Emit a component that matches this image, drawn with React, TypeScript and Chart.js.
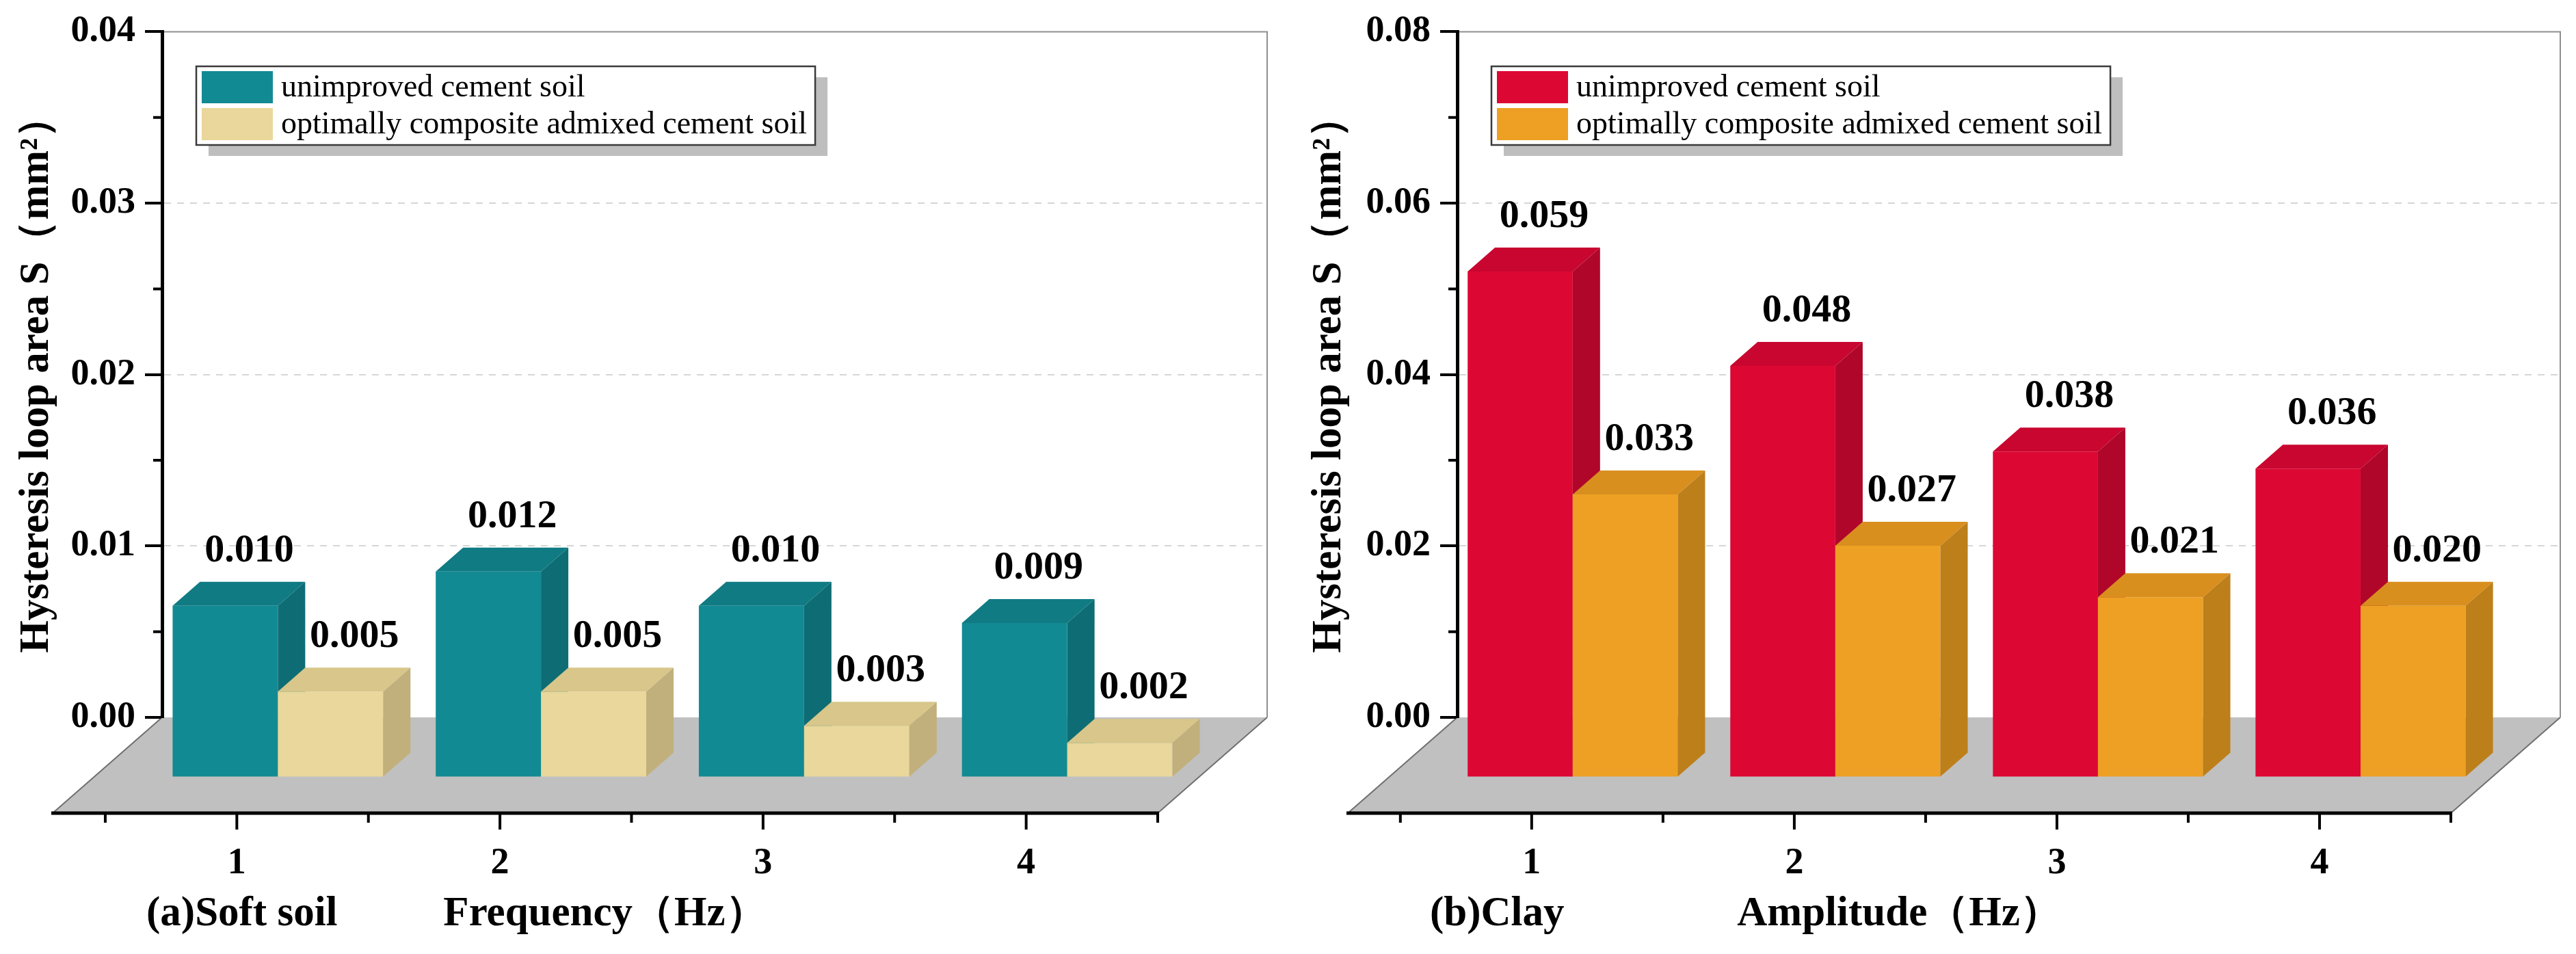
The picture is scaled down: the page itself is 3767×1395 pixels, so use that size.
import { useEffect, useRef } from 'react';
import { Chart, LinearScale, registerables } from 'chart.js';

Chart.register(...registerables);

// ---- data ----
const CATEGORIES = ['1', '2', '3', '4'];
const SERIES_NAMES = ['unimproved cement soil', 'optimally composite admixed cement soil'];

const SOFT_UNIMPROVED = [0.010, 0.012, 0.010, 0.009];
const SOFT_OPTIMAL = [0.005, 0.005, 0.003, 0.002];
const CLAY_UNIMPROVED = [0.059, 0.048, 0.038, 0.036];
const CLAY_OPTIMAL = [0.033, 0.027, 0.021, 0.020];

const SOFT_Y_MAX = 0.04;
const SOFT_Y_STEP = 0.01;
const CLAY_Y_MAX = 0.08;
const CLAY_Y_STEP = 0.02;

const Y_TITLE = 'Hysteresis loop area S（mm²）';

// ---- look ----
const FONT = "'Liberation Serif', 'Times New Roman', serif";

const TEAL = { front: '#128a93', top: '#107b83', side: '#0e6d74' };
const SAND = { front: '#e9d79b', top: '#d8c68a', side: '#c1b07b' };
const RED = { front: '#dc0733', top: '#c8062f', side: '#b0062a' };
const AMBER = { front: '#eda023', top: '#d98f1e', side: '#bd7f1a' };

const CANVAS_H = 1395;
const AREA_TOP = 45;
const AREA_BOTTOM = 1049;

// pseudo 3d: front edge of the floor relative to the back wall, and the depth of a box
const FLOOR_DX = 160;
const FLOOR_DY = 140;
const BOX_DX = 40;
const BOX_DY = 35;
const BAR_SHIFT_X = -(FLOOR_DX + BOX_DX) / 2;
const BAR_SHIFT_Y = (FLOOR_DY + BOX_DY) / 2;

const TITLE_SIZE = 61;
const TITLE_PAD_BOTTOM = 161;

// x axis that is drawn on the front edge of the floor
class FrontLinearScale extends LinearScale {
  static id = 'frontLinear';
  draw(area: any) {
    const ctx = this.ctx;
    ctx.save();
    ctx.translate(-FLOOR_DX, FLOOR_DY);
    super.draw(area);
    ctx.restore();
  }
}
Chart.register(FrontLinearScale);

type Faces = { front: string; top: string; side: string };

type PanelProps = {
  width: number;
  areaLeft: number;
  areaRight: number;
  values: number[][];
  colors: Faces[];
  yMax: number;
  yStep: number;
  xTitle: string;
  caption: string;
  captionX: number;
};

const poly = (ctx: CanvasRenderingContext2D, pts: number[][]) => {
  ctx.beginPath();
  ctx.moveTo(pts[0][0], pts[0][1]);
  for (let i = 1; i < pts.length; i++) ctx.lineTo(pts[i][0], pts[i][1]);
  ctx.closePath();
  ctx.fill();
};

const Panel = (props: PanelProps) => {
  const chartRef = useRef<HTMLCanvasElement | null>(null);

  useEffect(() => {
    const p = props;

    const box3d = {
      id: 'box3d',
      beforeDraw(chart: any) {
        const { ctx, chartArea: a } = chart;
        ctx.save();
        // floor
        ctx.fillStyle = '#c0c0c0';
        poly(ctx, [
          [a.left, a.bottom],
          [a.right, a.bottom],
          [a.right - FLOOR_DX, a.bottom + FLOOR_DY],
          [a.left - FLOOR_DX, a.bottom + FLOOR_DY],
        ]);
        ctx.strokeStyle = '#6f6f6f';
        ctx.lineWidth = 2;
        ctx.beginPath();
        ctx.moveTo(a.left, a.bottom);
        ctx.lineTo(a.left - FLOOR_DX, a.bottom + FLOOR_DY);
        ctx.moveTo(a.right, a.bottom);
        ctx.lineTo(a.right - FLOOR_DX, a.bottom + FLOOR_DY);
        ctx.stroke();
        // back wall frame
        ctx.strokeStyle = '#8f8f8f';
        ctx.lineWidth = 2;
        ctx.beginPath();
        ctx.moveTo(a.left, a.top);
        ctx.lineTo(a.right, a.top);
        ctx.lineTo(a.right, a.bottom);
        ctx.stroke();
        ctx.restore();
      },
      beforeDatasetsDraw(chart: any) {
        // draw in dataset order so the right bar of a pair hides the left one's side
        const ctx = chart.ctx;
        chart.data.datasets.forEach((_: any, i: number) => {
          const meta = chart.getDatasetMeta(i);
          const c = p.colors[i];
          ctx.save();
          ctx.translate(BAR_SHIFT_X, BAR_SHIFT_Y);
          meta.controller.draw();
          meta.data.forEach((bar: any) => {
            const { x, y, base, width } = bar.getProps(['x', 'y', 'base', 'width'], true);
            const l = x - width / 2;
            const r = x + width / 2;
            ctx.fillStyle = c.top;
            poly(ctx, [[l, y], [r, y], [r + BOX_DX, y - BOX_DY], [l + BOX_DX, y - BOX_DY]]);
            ctx.fillStyle = c.side;
            poly(ctx, [[r, y], [r + BOX_DX, y - BOX_DY], [r + BOX_DX, base - BOX_DY], [r, base]]);
          });
          ctx.restore();
        });
        return false;
      },
      afterDraw(chart: any) {
        const { ctx, chartArea: a } = chart;
        const xs = chart.scales.x;
        const ys = chart.scales.y;
        ctx.save();

        // value labels
        ctx.fillStyle = '#000';
        ctx.font = `bold 58px ${FONT}`;
        ctx.textAlign = 'center';
        ctx.textBaseline = 'alphabetic';
        chart.data.datasets.forEach((ds: any, i: number) => {
          chart.getDatasetMeta(i).data.forEach((bar: any, j: number) => {
            const { x, y } = bar.getProps(['x', 'y'], true);
            ctx.fillText(Number(ds.data[j]).toFixed(3), x + BAR_SHIFT_X + 35, y + BAR_SHIFT_Y - BOX_DY - 30);
          });
        });

        // front x axis line with major and minor ticks
        const fy = a.bottom + FLOOR_DY;
        ctx.strokeStyle = '#000';
        ctx.lineWidth = 5;
        ctx.beginPath();
        ctx.moveTo(a.left - FLOOR_DX - 2, fy);
        ctx.lineTo(a.right - FLOOR_DX + 2, fy);
        ctx.stroke();
        ctx.lineWidth = 4;
        ctx.beginPath();
        xs.ticks.forEach((t: any) => {
          const px = xs.getPixelForValue(t.value) - FLOOR_DX;
          ctx.moveTo(px, fy);
          ctx.lineTo(px, fy + 24);
          [t.value - 0.5, t.value + 0.5].forEach((m) => {
            const mx = xs.getPixelForValue(m) - FLOOR_DX;
            ctx.moveTo(mx, fy);
            ctx.lineTo(mx, fy + 14);
          });
        });
        ctx.stroke();

        // minor y ticks
        ctx.beginPath();
        ys.ticks.slice(0, -1).forEach((t: any) => {
          const py = ys.getPixelForValue(t.value + p.yStep / 2);
          ctx.moveTo(a.left, py);
          ctx.lineTo(a.left - 13, py);
        });
        ctx.stroke();

        // panel caption next to the axis title
        ctx.font = `bold ${TITLE_SIZE}px ${FONT}`;
        ctx.textAlign = 'left';
        ctx.textBaseline = 'middle';
        const capY = xs.bottom - TITLE_PAD_BOTTOM - (TITLE_SIZE * 1.2) / 2 + FLOOR_DY;
        ctx.fillText(p.caption, p.captionX, capY);

        // legend
        ctx.font = `46px ${FONT}`;
        const names = chart.data.datasets.map((d: any) => d.label);
        const tw = Math.max(...names.map((n: string) => ctx.measureText(n).width));
        const lx = a.left + 50;
        const ly = 97;
        const lw = 124 + tw + 12;
        const lh = 115;
        ctx.fillStyle = '#bebebe';
        ctx.fillRect(lx + 18, ly + 16, lw, lh);
        ctx.fillStyle = '#fff';
        ctx.fillRect(lx, ly, lw, lh);
        ctx.strokeStyle = '#3a3a3a';
        ctx.lineWidth = 2.5;
        ctx.strokeRect(lx, ly, lw, lh);
        names.forEach((n: string, k: number) => {
          const sy = ly + 7 + k * 54;
          ctx.fillStyle = p.colors[k].front;
          ctx.fillRect(lx + 8, sy, 104, 47);
          ctx.fillStyle = '#000';
          ctx.fillText(n, lx + 124, sy + 25);
        });

        ctx.restore();
      },
    };

    const chart = new Chart(chartRef.current!, {
      type: 'bar',
      data: {
        labels: CATEGORIES,
        datasets: p.values.map((v, i) => ({
          label: SERIES_NAMES[i],
          data: v,
          backgroundColor: p.colors[i].front,
          borderWidth: 0,
          clip: false,
          categoryPercentage: 0.8,
          barPercentage: 1,
        })) as any,
      },
      options: {
        responsive: false,
        animation: false,
        devicePixelRatio: 1,
        layout: { padding: { left: 0, top: AREA_TOP, right: p.width - p.areaRight, bottom: 0 } },
        plugins: { legend: { display: false }, tooltip: { enabled: false } },
        scales: {
          x: {
            type: 'frontLinear',
            min: 0.3,
            max: 4.5,
            offset: false,
            grid: { display: false, drawTicks: false },
            border: { display: false },
            ticks: {
              stepSize: 1,
              includeBounds: false,
              autoSkip: false,
              maxRotation: 0,
              padding: 42,
              color: '#000',
              font: { family: FONT, size: 54, weight: 'bold' },
              callback: (v: any) => CATEGORIES[Number(v) - 1] ?? '',
            },
            title: {
              display: true,
              text: p.xTitle,
              color: '#000',
              font: { family: FONT, size: TITLE_SIZE, weight: 'bold' },
              padding: { top: 0, bottom: TITLE_PAD_BOTTOM },
            },
            afterFit: (s: any) => {
              s.height = CANVAS_H - AREA_BOTTOM;
            },
          } as any,
          y: {
            min: 0,
            max: p.yMax,
            ticks: {
              stepSize: p.yStep,
              padding: 14,
              color: '#000',
              font: { family: FONT, size: 54, weight: 'bold' },
              callback: (v: any) => Number(v).toFixed(2),
            },
            grid: {
              color: (c: any) =>
                c.tick && c.tick.value > 1e-9 && c.tick.value < p.yMax - 1e-9 ? '#d6d6d6' : 'rgba(0,0,0,0)',
              lineWidth: 2,
              tickColor: '#000',
              tickWidth: 4,
              tickLength: 25,
            },
            border: { color: '#000', width: 5, dash: [10, 9] },
            title: {
              display: true,
              text: Y_TITLE,
              color: '#000',
              font: { family: FONT, size: TITLE_SIZE, weight: 'bold' },
              padding: { top: 18, bottom: 0 },
            },
            afterFit: (s: any) => {
              s.width = p.areaLeft;
            },
          },
        },
      },
      plugins: [box3d],
    });
    return () => {
      chart.destroy();
    };
  }, []);

  return (
    <canvas
      ref={chartRef}
      width={props.width}
      height={CANVAS_H}
      style={{ display: 'block', width: props.width, height: CANVAS_H }}
    />
  );
};

const App = () => {
  return (
    <div
      style={{
        position: 'absolute',
        left: 0,
        top: 0,
        width: 3767,
        height: CANVAS_H,
        display: 'flex',
        background: '#fff',
      }}
    >
      <Panel
        width={1890}
        areaLeft={237}
        areaRight={1853}
        values={[SOFT_UNIMPROVED, SOFT_OPTIMAL]}
        colors={[TEAL, SAND]}
        yMax={SOFT_Y_MAX}
        yStep={SOFT_Y_STEP}
        xTitle="Frequency（Hz）"
        caption="(a)Soft soil"
        captionX={214}
      />
      <Panel
        width={1877}
        areaLeft={241}
        areaRight={1854}
        values={[CLAY_UNIMPROVED, CLAY_OPTIMAL]}
        colors={[RED, AMBER]}
        yMax={CLAY_Y_MAX}
        yStep={CLAY_Y_STEP}
        xTitle="Amplitude（Hz）"
        caption="(b)Clay"
        captionX={201}
      />
    </div>
  );
};

export default App;
